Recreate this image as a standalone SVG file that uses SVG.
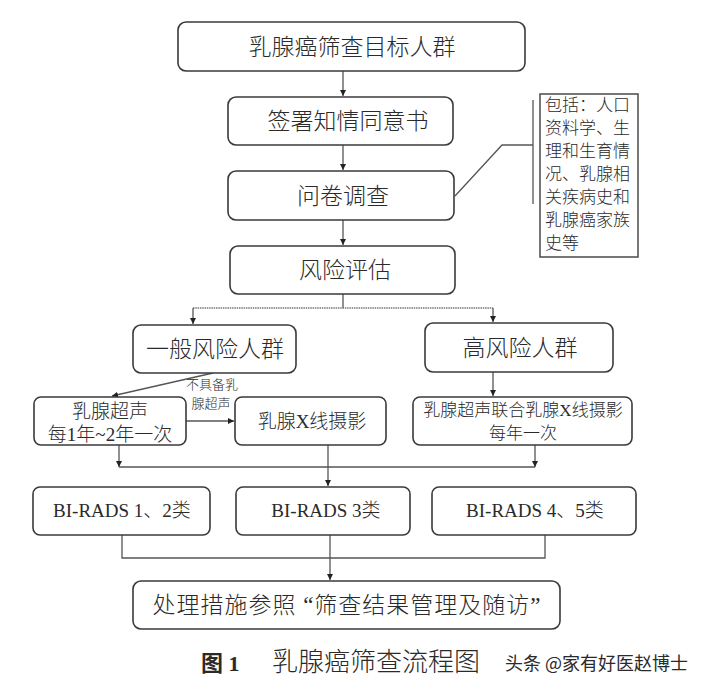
<svg xmlns="http://www.w3.org/2000/svg" width="701" height="693" viewBox="0 0 701 693">
<defs>
<style>
.box{fill:#fff;stroke:#3a3a3a;stroke-width:1.6}
.ann{fill:#fff;stroke:#555;stroke-width:1.6}
.ln{fill:none;stroke:#555;stroke-width:1.3}
.dot{fill:none;stroke:#777;stroke-width:1.5;stroke-dasharray:1.5 0.8}
.t{font-family:"Liberation Serif","Noto Sans CJK SC",serif;fill:#2a2a2a;text-anchor:middle;font-weight:300}
.a{font-family:"Liberation Serif","Noto Sans CJK SC",serif;fill:#2a2a2a;font-weight:300}
</style>
<marker id="ar" viewBox="0 0 8 8" refX="8" refY="4" markerWidth="6" markerHeight="6" markerUnits="userSpaceOnUse" orient="auto">
<path d="M0,0 L8,4 L0,8 Z" fill="#222"/>
</marker>
</defs>
<rect width="701" height="693" fill="#fff"/>

<g id="connectors">
<line class="ln" x1="343" y1="71" x2="343" y2="96" marker-end="url(#ar)"/>
<line class="ln" x1="343" y1="145" x2="343" y2="170" marker-end="url(#ar)"/>
<line class="ln" x1="343" y1="220" x2="343" y2="245" marker-end="url(#ar)"/>
<line class="ln" x1="343" y1="294" x2="343" y2="308"/>
<line class="dot" x1="193" y1="308" x2="493" y2="308"/>
<line class="ln" x1="193" y1="308" x2="193" y2="324" marker-end="url(#ar)"/>
<line class="ln" x1="493" y1="308" x2="493" y2="322" marker-end="url(#ar)"/>
<line class="ln" x1="213" y1="373" x2="112" y2="396" marker-end="url(#ar)"/>
<line class="ln" x1="186" y1="421" x2="234" y2="421" marker-end="url(#ar)"/>
<line class="ln" x1="493" y1="372" x2="493" y2="396" marker-end="url(#ar)"/>
<line class="ln" x1="119" y1="445" x2="119" y2="467" marker-end="url(#ar)"/>
<line class="ln" x1="535" y1="445" x2="535" y2="467" marker-end="url(#ar)"/>
<line class="ln" x1="119" y1="467" x2="535" y2="467"/>
<line class="ln" x1="328" y1="445" x2="328" y2="486" marker-end="url(#ar)"/>
<polyline class="ln" points="122,535 122,558 545,558 545,535"/>
<line class="ln" x1="330" y1="535" x2="330" y2="580" marker-end="url(#ar)"/>
<polyline class="ln" points="455,196 502,145 533,145"/>
<line class="ln" x1="533" y1="100" x2="533" y2="204"/>
<text class="t" x="212" y="389" font-size="13">不具备乳</text>
<text class="t" x="211" y="408" font-size="13">腺超声</text>
</g>

<g id="n1"><rect class="box" x="178" y="22" width="347" height="49" rx="8"/>
<text class="t" x="352" y="55" font-size="23">乳腺癌筛查目标人群</text></g>
<g id="n2"><rect class="box" x="228" y="97" width="225" height="48" rx="8"/>
<text class="t" x="348" y="129" font-size="23">签署知情同意书</text></g>
<g id="n3"><rect class="box" x="228" y="171" width="226" height="49" rx="8"/>
<text class="t" x="343" y="204" font-size="23">问卷调查</text></g>
<g id="n4"><rect class="box" x="230" y="246" width="225" height="48" rx="8"/>
<text class="t" x="345" y="278" font-size="23">风险评估</text></g>

<g id="note"><rect class="ann" x="540" y="94" width="98" height="163"/>
<text class="a" x="545" y="111" font-size="17">包括：人口</text>
<text class="a" x="545" y="134" font-size="17">资料学、生</text>
<text class="a" x="545" y="157" font-size="17">理和生育情</text>
<text class="a" x="545" y="180" font-size="17">况、乳腺相</text>
<text class="a" x="545" y="203" font-size="17">关疾病史和</text>
<text class="a" x="545" y="226" font-size="17">乳腺癌家族</text>
<text class="a" x="545" y="249" font-size="17">史等</text></g>

<g id="n5"><rect class="box" x="133" y="325" width="163" height="48" rx="8"/>
<text class="t" x="215" y="357" font-size="23">一般风险人群</text></g>
<g id="n6"><rect class="box" x="425" y="323" width="188" height="49" rx="8"/>
<text class="t" x="520" y="356" font-size="23">高风险人群</text></g>

<g id="n7"><rect class="box" x="34" y="397" width="152" height="48" rx="7"/>
<text class="t" x="110" y="418" font-size="19">乳腺超声</text>
<text class="t" x="110" y="441" font-size="19">每1年~2年一次</text></g>
<g id="n8"><rect class="box" x="235" y="397" width="151" height="48" rx="7"/>
<text class="t" x="312" y="428" font-size="19">乳腺X线摄影</text></g>
<g id="n9"><rect class="box" x="413" y="397" width="219" height="48" rx="7"/>
<text class="t" x="523" y="416" font-size="17">乳腺超声联合乳腺X线摄影</text>
<text class="t" x="523" y="439" font-size="17">每年一次</text></g>

<g id="n10"><rect class="box" x="33" y="487" width="177" height="48" rx="7"/>
<text class="t" x="122" y="517" font-size="19">BI-RADS 1、2类</text></g>
<g id="n11"><rect class="box" x="236" y="487" width="174" height="48" rx="7"/>
<text class="t" x="326" y="517" font-size="19">BI-RADS 3类</text></g>
<g id="n12"><rect class="box" x="432" y="487" width="204" height="48" rx="7"/>
<text class="t" x="535" y="517" font-size="19">BI-RADS 4、5类</text></g>

<g id="n13"><rect class="box" x="133" y="581" width="427" height="48" rx="8"/>
<text class="t" x="347" y="613" font-size="23" letter-spacing="1">处理措施参照 “筛查结果管理及随访”</text></g>

<g id="caption">
<text class="a" x="201" y="671" font-size="22" font-weight="bold" style="font-weight:bold">图 1</text>
<text class="a" x="272" y="671" font-size="26">乳腺癌筛查流程图</text>
<text class="a" x="505" y="670" font-size="18" fill="#333" style="font-family:'Noto Sans CJK SC',sans-serif;font-weight:400">头条 @家有好医赵博士</text>
</g>
</svg>
